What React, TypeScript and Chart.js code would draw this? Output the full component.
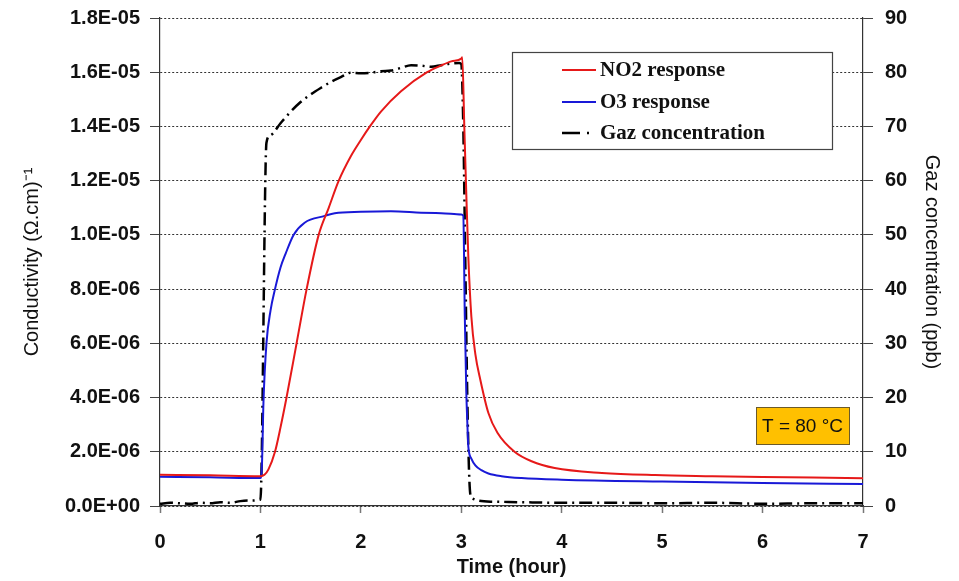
import React, { useEffect, useRef } from "react";
import { Chart, registerables } from "chart.js";
Chart.register(...registerables);

// ---- Data (time in hours) ----
const no2Time = [0, 0.5, 1.0, 1.04, 1.08, 1.145, 1.2, 1.26, 1.36, 1.46, 1.58, 1.68, 1.78, 1.9, 2.0, 2.09, 2.2, 2.4, 2.66, 2.8, 2.9, 3.0, 3.01, 3.03, 3.05, 3.07, 3.1, 3.14, 3.19, 3.27, 3.36, 3.53, 3.7, 3.93, 4.4, 4.93, 5.5, 6.0, 6.5, 7.0];
const no2Values = [1.15e-6, 1.13e-6, 1.1e-6, 1.15e-6, 1.35e-6, 2.0e-6, 2.9e-6, 4.0e-6, 6.0e-6, 8.0e-6, 1.0e-5, 1.1e-5, 1.2e-5, 1.29e-5, 1.35e-5, 1.4e-5, 1.455e-5, 1.53e-5, 1.6e-5, 1.625e-5, 1.64e-5, 1.65e-5, 1.655e-5, 1.4e-5, 1.15e-5, 9.2e-6, 7.0e-6, 5.6e-6, 4.65e-6, 3.43e-6, 2.7e-6, 2.0e-6, 1.65e-6, 1.4e-6, 1.22e-6, 1.14e-6, 1.1e-6, 1.07e-6, 1.05e-6, 1.02e-6];

const o3Time = [0, 0.5, 1.0, 1.015, 1.03, 1.06, 1.1, 1.145, 1.2, 1.25, 1.33, 1.44, 1.64, 1.74, 2.0, 2.3, 2.6, 2.8, 3.0, 3.02, 3.035, 3.05, 3.06, 3.07, 3.1, 3.14, 3.2, 3.27, 3.4, 3.6, 4.0, 5.0, 6.0, 7.0];
const o3Values = [1.08e-6, 1.06e-6, 1.03e-6, 1.5e-6, 3.8e-6, 6.0e-6, 7.2e-6, 8.0e-6, 8.8e-6, 9.3e-6, 1.0e-5, 1.045e-5, 1.07e-5, 1.08e-5, 1.085e-5, 1.087e-5, 1.082e-5, 1.08e-5, 1.075e-5, 1.07e-5, 7.0e-6, 4.2e-6, 3.1e-6, 2.2e-6, 1.75e-6, 1.5e-6, 1.32e-6, 1.2e-6, 1.1e-6, 1.03e-6, 0.97e-6, 0.9e-6, 0.85e-6, 0.81e-6];

const gasTime = [0, 0.1, 0.2, 0.3, 0.4, 0.5, 0.6, 0.7, 0.8, 0.9, 1.0, 1.06, 1.1, 1.2, 1.3, 1.4, 1.5, 1.6, 1.7, 1.8, 1.9, 2.0, 2.1, 2.2, 2.3, 2.4, 2.5, 2.6, 2.7, 2.8, 2.9, 2.98, 3.0, 3.02, 3.04, 3.06, 3.08, 3.1, 3.3, 3.6, 4.0, 4.5, 5.0, 5.5, 6.0, 6.5, 7.0];
const gasPpb = [0.4, 0.6, 0.5, 0.4, 0.6, 0.5, 0.7, 0.6, 0.9, 1.0, 1.2, 67, 68.4, 70.6, 72.7, 74.5, 75.9, 77.1, 78.2, 79.1, 79.9, 79.8, 79.9, 80.2, 80.3, 80.8, 81.3, 81.2, 81.0, 81.3, 81.6, 81.7, 81.5, 70, 45, 20, 5, 1.5, 0.8, 0.7, 0.6, 0.6, 0.5, 0.6, 0.4, 0.5, 0.5];

const seriesLabels = ["NO2 response", "O3 response", "Gaz concentration"];
const seriesColors = ["rgb(230,25,25)", "rgb(25,25,215)", "#000000"];
const tempLabel = "T = 80 °C";

const condMax = 1.8e-5;
const condStep = 2e-6;
const gasMax = 90;
const gasStep = 10;

function formatSci(v: number): string {
  const [m, e] = v.toExponential(1).split("e");
  const sign = e.startsWith("-") ? "-" : "+";
  const digits = e.replace("-", "").replace("+", "").padStart(2, "0");
  return `${m}E${sign}${digits}`;
}

const toXY = (xs: number[], ys: number[]) => xs.map((x, i) => ({ x, y: ys[i] }));

const overlayPlugin = {
  id: "overlay",
  afterDraw(chart: any) {
    const ctx = chart.ctx as CanvasRenderingContext2D;
    ctx.save();
    // Legend box
    ctx.fillStyle = "#ffffff";
    ctx.fillRect(512, 52, 320, 97);
    ctx.strokeStyle = "#444";
    ctx.lineWidth = 1.2;
    ctx.setLineDash([]);
    ctx.strokeRect(512.5, 52.5, 320, 97);
    const rows = [70, 102, 133];
    ctx.font = 'bold 21px "Liberation Serif", "Times New Roman", serif';
    ctx.textBaseline = "middle";
    ctx.textAlign = "left";
    seriesLabels.forEach((lab, i) => {
      const y = rows[i];
      ctx.strokeStyle = seriesColors[i];
      ctx.lineWidth = i === 2 ? 2.5 : 2;
      ctx.beginPath();
      if (i === 2) {
        ctx.moveTo(562, y);
        ctx.lineTo(580, y);
        ctx.moveTo(587, y);
        ctx.lineTo(589, y);
      } else {
        ctx.moveTo(562, y);
        ctx.lineTo(596, y);
      }
      ctx.stroke();
      ctx.fillStyle = "#111";
      ctx.fillText(lab, 600, y + 1);
    });
    // Temperature box
    ctx.fillStyle = "#FFC000";
    ctx.fillRect(756, 407, 93, 37);
    ctx.strokeStyle = "#6b5a2a";
    ctx.lineWidth = 1;
    ctx.strokeRect(756.5, 407.5, 93, 37);
    ctx.fillStyle = "#111";
    ctx.font = '19px "Liberation Sans", Arial, sans-serif';
    ctx.textAlign = "center";
    ctx.fillText(tempLabel, 802.5, 427);
    ctx.restore();
  },
};

export default function App() {
  const ref = useRef<HTMLCanvasElement | null>(null);
  useEffect(() => {
    if (!ref.current) return;
    const tickFont = { family: '"Liberation Sans", Arial, sans-serif', size: 20, weight: "bold" as const };
    const chart = new Chart(ref.current, {
      type: "line",
      data: {
        datasets: [
          {
            label: seriesLabels[0],
            data: toXY(no2Time, no2Values),
            borderColor: seriesColors[0],
            borderWidth: 2,
            pointRadius: 0,
            cubicInterpolationMode: "monotone",
            yAxisID: "y",
          },
          {
            label: seriesLabels[1],
            data: toXY(o3Time, o3Values),
            borderColor: seriesColors[1],
            borderWidth: 2,
            pointRadius: 0,
            cubicInterpolationMode: "monotone",
            yAxisID: "y",
          },
          {
            label: seriesLabels[2],
            data: toXY(gasTime, gasPpb),
            borderColor: seriesColors[2],
            borderWidth: 2.5,
            borderDash: [13, 5, 2, 5],
            pointRadius: 0,
            cubicInterpolationMode: "monotone",
            yAxisID: "y1",
          },
        ],
      },
      options: {
        animation: false,
        responsive: true,
        maintainAspectRatio: false,
        layout: { padding: { top: 18, left: 0, right: 0, bottom: 0 } },
        plugins: { legend: { display: false }, tooltip: { enabled: false } },
        scales: {
          x: {
            type: "linear",
            min: 0,
            max: 7,
            ticks: { stepSize: 1, font: tickFont, color: "#111", padding: 17 },
            grid: { drawOnChartArea: false, drawTicks: true, tickLength: 7, tickColor: "#777", tickWidth: 1.5 },
            border: { display: true, color: "#333", width: 1.2 },
            title: {
              display: true,
              text: "Time (hour)",
              font: { family: '"Liberation Sans", Arial, sans-serif', size: 20, weight: "bold" },
              color: "#111",
              padding: { top: 0, bottom: 2 },
            },
            afterFit(scale: any) {
              scale.height = 75;
            },
          },
          y: {
            type: "linear",
            position: "left",
            min: 0,
            max: condMax,
            ticks: {
              stepSize: condStep,
              font: tickFont,
              color: "#111",
              padding: 10,
              callback: (v: any) => formatSci(Number(v)),
            },
            grid: {
              color: "#333",
              lineWidth: 1,
              drawTicks: true,
              tickLength: 10,
              tickColor: "#444",
              tickBorderDash: [],
            },
            border: { display: true, color: "#333", width: 1.2, dash: [2, 2] },
            title: {
              display: true,
              text: "Conductivity (Ω.cm)⁻¹",
              font: { family: '"Liberation Sans", Arial, sans-serif', size: 20 },
              color: "#111",
              padding: { top: 20, bottom: 0 },
            },
            afterFit(scale: any) {
              scale.width = 160;
              scale.paddingTop = 0;
              scale.paddingBottom = 0;
            },
          },
          y1: {
            type: "linear",
            position: "right",
            min: 0,
            max: gasMax,
            ticks: { stepSize: gasStep, font: tickFont, color: "#111", padding: 12 },
            grid: { drawOnChartArea: false, drawTicks: true, tickLength: 10, tickColor: "#444" },
            border: { display: true, color: "#333", width: 1.2 },
            title: {
              display: true,
              text: "Gaz concentration (ppb)",
              font: { family: '"Liberation Sans", Arial, sans-serif', size: 20 },
              color: "#111",
              padding: { top: 15, bottom: 0 },
            },
            afterFit(scale: any) {
              scale.width = 96;
              scale.paddingTop = 0;
              scale.paddingBottom = 0;
            },
          },
        },
      },
      plugins: [overlayPlugin],
    } as any);
    return () => chart.destroy();
  }, []);
  return (
    <div style={{ position: "absolute", left: 0, top: 0, width: 959, height: 581, background: "#fff" }}>
      <canvas ref={ref} />
    </div>
  );
}
